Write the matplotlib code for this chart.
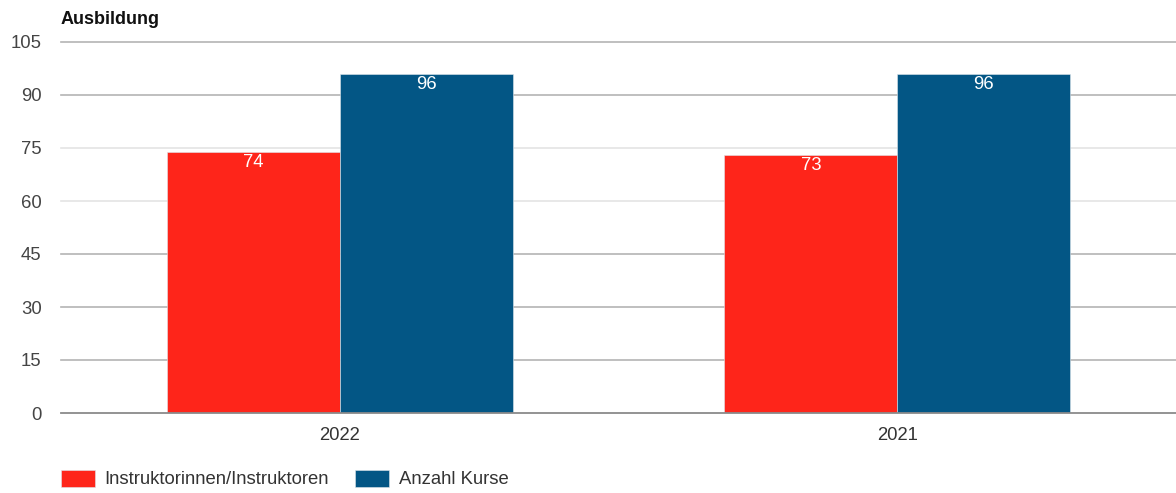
import numpy as np
import matplotlib
matplotlib.use('Agg')
import matplotlib.pyplot as plt
from matplotlib import rcParams

rcParams['font.family'] = ['Liberation Sans', 'DejaVu Sans']

years = ['2022', '2021']
instruktoren = [74, 73]
kurse = [96, 96]
series_labels = ['Instruktorinnen/Instruktoren', 'Anzahl Kurse']
colors = ['#FE251A', '#035685']
yticks = [0, 15, 30, 45, 60, 75, 90, 105]

W, H = 1176, 493
fs = 13.3
fig = plt.figure(figsize=(W / 100, H / 100), dpi=100)
ax = fig.add_axes([61 / W, 1 - 413 / H, 1 - 61 / W, (413 - 42) / H])

x = np.arange(len(years))
bw = 0.31

# gridlines (two of them render lighter)
for v in yticks[1:]:
	c = '#e4e4e4' if v in (60, 75) else '#b4b4b4'
	ax.axhline(v, color=c, lw=1.2, zorder=0, clip_on=False)
ax.axhline(0, color='#8a8a8a', lw=1.3, zorder=3, clip_on=False)

for i, (vals, col, lab) in enumerate(zip([instruktoren, kurse], colors, series_labels)):
	b = ax.bar(x + (i - 0.5) * bw, vals, width=bw, color=col, label=lab,
		edgecolor='#dfe6ec', linewidth=0.4, zorder=2)
	for rect, v in zip(b, vals):
		ax.annotate(str(v), (rect.get_x() + rect.get_width() / 2, v),
			xytext=(0, -1.5), textcoords='offset points', ha='center', va='top',
			color='white', fontsize=fs, zorder=4)

ax.set_xlim(-0.5, len(years) - 0.5)
ax.set_ylim(0, 105)
ax.set_yticks(yticks)
ax.set_xticks(x)
ax.set_xticklabels(years)
ax.tick_params(axis='y', length=0, pad=14, labelsize=fs, labelcolor='#444444')
ax.tick_params(axis='x', length=0, pad=10, labelsize=fs, labelcolor='#333333')
for s in ax.spines.values():
	s.set_visible(False)

fig.text(61 / W, 1 - 20 / H, 'Ausbildung', fontsize=13, fontweight='bold',
	ha='left', va='center', color='#111111')

h, l = ax.get_legend_handles_labels()
fig.legend(h, l, loc='center left', bbox_to_anchor=(44 / W, 1 - 479 / H), ncol=2,
	frameon=False, fontsize=fs, handlelength=1.85, handleheight=1.05,
	handletextpad=0.5, columnspacing=1.45, labelcolor='#333333')

fig.savefig('out.png', dpi=100)
